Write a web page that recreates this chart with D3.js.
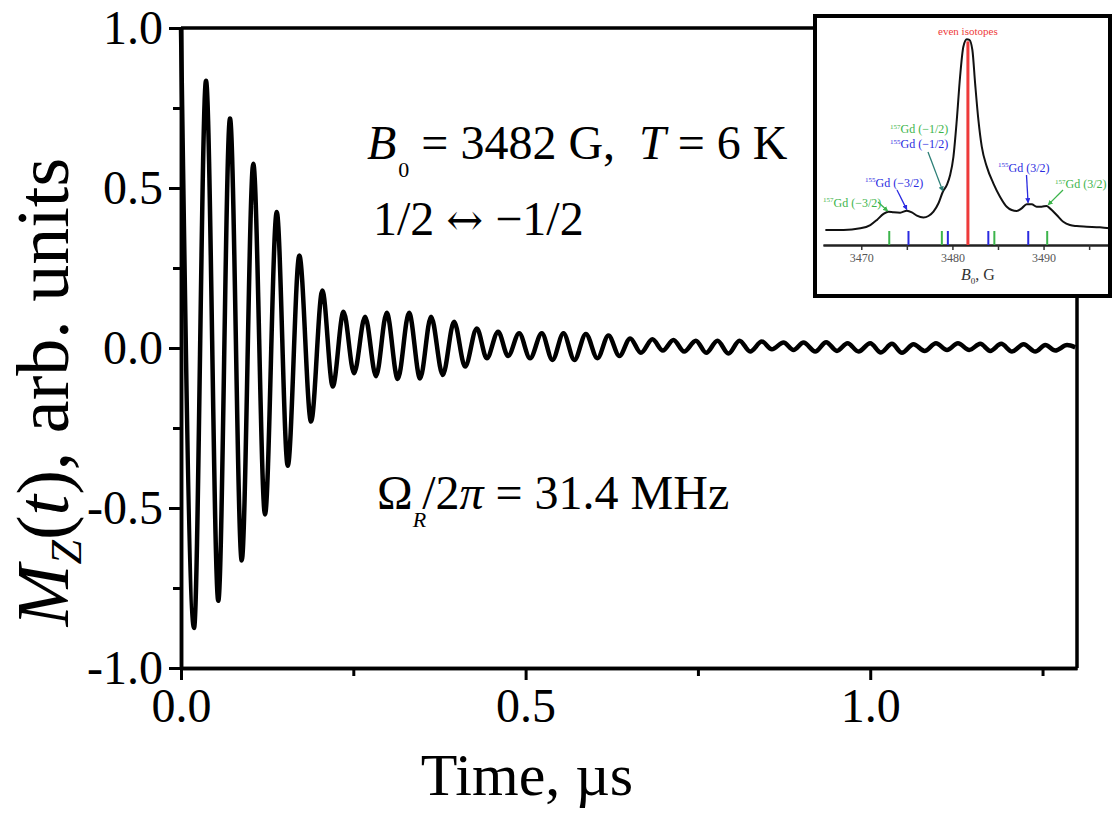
<!DOCTYPE html>
<html>
<head>
<meta charset="utf-8">
<script src="https://cdn.jsdelivr.net/npm/d3@7"></script>
<style>
  body { margin: 0; background: #fff; }
  svg { display: block; font-family: "Liberation Serif", "Times New Roman", serif; }
  text { white-space: pre; }
</style>
</head>
<body>
<svg width="1112" height="814"></svg>
<script>
// Rabi oscillation trace, extrema (time in us)
const timeUs = [
  0, 0.0189, 0.0363, 0.0541, 0.0711, 0.0881, 0.1049, 0.1219, 0.1389, 0.1549,
  0.1717, 0.1887, 0.2051, 0.2202, 0.2358, 0.2511, 0.2671, 0.2830, 0.2985, 0.3145,
  0.3309, 0.3469, 0.3628, 0.3798, 0.3962, 0.4122, 0.4292, 0.4437, 0.4601, 0.4746,
  0.4906, 0.5065, 0.5235, 0.5389, 0.5549, 0.5708, 0.5874, 0.6042, 0.6202, 0.6361,
  0.6517, 0.6672, 0.6840, 0.6991, 0.7145, 0.7300, 0.7470, 0.7620, 0.7784, 0.7943,
  0.8103, 0.8258, 0.8428, 0.8573, 0.8742, 0.8887, 0.9032, 0.9202, 0.9361, 0.9517,
  0.9671, 0.9830, 1.0000, 1.0155, 1.0315, 1.0460, 1.0628, 1.0788, 1.0954, 1.1114,
  1.1273, 1.1437, 1.1597, 1.1742, 1.1901, 1.2057, 1.2225, 1.2395, 1.2540, 1.2685,
  1.2855, 1.2975
];
const mz = [
  1.0, -0.875, 0.835, -0.79, 0.717, -0.664, 0.576, -0.52, 0.425, -0.368,
  0.289, -0.23, 0.18, -0.12, 0.113, -0.079, 0.098, -0.088, 0.11, -0.097,
  0.11, -0.095, 0.098, -0.084, 0.082, -0.058, 0.061, -0.032, 0.051, -0.025,
  0.046, -0.032, 0.046, -0.0375, 0.046, -0.0375, 0.044, -0.032, 0.039, -0.025,
  0.030, -0.015, 0.027, -0.008, 0.025, -0.011, 0.023, -0.015, 0.023, -0.017,
  0.023, -0.011, 0.020, -0.004, 0.017, -0.006, 0.017, -0.011, 0.018, -0.009,
  0.015, -0.011, 0.015, -0.014, 0.013, -0.015, 0.012, -0.009, 0.015, -0.006,
  0.015, -0.006, 0.013, -0.009, 0.013, -0.011, 0.012, -0.011, 0.009, -0.008,
  0.009, 0.002
];
const xMajor = [0, 0.5, 1.0];
const xMinor = [0.25, 0.75, 1.25];
const yMajor = [-1, -0.5, 0, 0.5, 1];
const yMinor = [-0.75, -0.25, 0.25, 0.75];

// inset: EPR line, field in G, intensity normalised to peak
const insetField = [
  3466.06, 3468.06, 3469.89, 3470.99, 3471.72, 3472.44, 3472.99, 3473.54, 3474.27, 3475.0,
  3475.55, 3476.1, 3476.82, 3477.37, 3477.92, 3478.47, 3478.95, 3479.39, 3479.75, 3480.11,
  3480.48, 3480.84, 3481.2, 3481.58, 3481.86, 3482.19, 3482.49, 3482.85, 3483.22, 3483.77,
  3484.49, 3485.22, 3485.96, 3486.5, 3487.05, 3487.6, 3488.15, 3488.7, 3489.24, 3489.79,
  3490.34, 3490.7, 3491.44, 3492.16, 3492.89, 3493.63, 3494.72, 3496.18, 3497.27
];
const insetSignal = [
  0.073, 0.073, 0.081, 0.097, 0.122, 0.151, 0.162, 0.159, 0.157, 0.167,
  0.159, 0.143, 0.134, 0.141, 0.162, 0.203, 0.259, 0.292, 0.340, 0.429,
  0.608, 0.818, 0.964, 1.0, 0.997, 0.948, 0.786, 0.608, 0.478, 0.381,
  0.300, 0.235, 0.186, 0.170, 0.165, 0.178, 0.198, 0.198, 0.186, 0.186,
  0.190, 0.178, 0.146, 0.113, 0.097, 0.092, 0.089, 0.086, 0.081
];
const insetTicks = [3470, 3480, 3490];
const insetMinor = [3475, 3485, 3495];
const gd157Lines = [3473.07, 3478.84, 3484.6, 3490.4];
const gd155Lines = [3475.18, 3479.5, 3483.94, 3488.32];
const evenLine = 3481.7;

const green = "#3cb44b", blue = "#2a2ae0", teal = "#2c7f76", red = "#ee3a3a";

const svg = d3.select("svg");
svg.append("rect").attr("width", 1112).attr("height", 814).attr("fill", "#fff");

const x = d3.scaleLinear().domain([0, 1.3]).range([181, 1077]);
const y = d3.scaleLinear().domain([-1, 1]).range([668, 28]);

const fmt = d => d.toFixed(1);

// y axis
svg.append("g").attr("transform", "translate(" + x(0) + ",0)")
  .call(d3.axisLeft(y).tickValues(yMajor).tickFormat(fmt).tickSize(12).tickSizeOuter(0).tickPadding(6));
svg.append("g").attr("transform", "translate(" + x(0) + ",0)")
  .call(d3.axisLeft(y).tickValues(yMinor).tickFormat("").tickSize(8).tickSizeOuter(0));

// x axis
svg.append("g").attr("transform", "translate(0," + y(-1) + ")")
  .call(d3.axisBottom(x).tickValues(xMajor).tickFormat(fmt).tickSize(12).tickSizeOuter(0).tickPadding(8));
svg.append("g").attr("transform", "translate(0," + y(-1) + ")")
  .call(d3.axisBottom(x).tickValues(xMinor).tickFormat("").tickSize(8).tickSizeOuter(0));

svg.selectAll(".domain").attr("stroke", "#000").attr("stroke-width", 3.5);
svg.selectAll(".tick line").attr("stroke", "#000").attr("stroke-width", 3);
svg.selectAll(".tick text").attr("font-family", "Liberation Serif, serif").attr("font-size", 48).attr("fill", "#000");

// frame top and right
svg.append("line").attr("x1", x(0)).attr("x2", x(1.3)).attr("y1", y(1)).attr("y2", y(1))
  .attr("stroke", "#000").attr("stroke-width", 3.5);
svg.append("line").attr("x1", x(1.3)).attr("x2", x(1.3)).attr("y1", y(1)).attr("y2", y(-1))
  .attr("stroke", "#000").attr("stroke-width", 3.5);

// trace
const pts = timeUs.map((t, i) => [t, mz[i]]);
svg.append("path").datum(pts)
  .attr("d", d3.line().x(d => x(d[0])).y(d => y(d[1])).curve(d3.curveMonotoneX))
  .attr("fill", "none").attr("stroke", "#000").attr("stroke-width", 4.5).attr("stroke-linejoin", "round");

// axis titles
svg.append("text").attr("x", 527).attr("y", 795).attr("text-anchor", "middle")
  .attr("font-size", 60).text("Time, \u00b5s");

const yl = svg.append("text").attr("transform", "translate(68,392) rotate(-90)")
  .attr("text-anchor", "middle").attr("font-size", 74);
yl.append("tspan").attr("font-style", "italic").text("M");
yl.append("tspan").attr("font-style", "italic").attr("font-size", 44).attr("dy", 13).text("Z");
yl.append("tspan").attr("dy", -13).text("(");
yl.append("tspan").attr("font-style", "italic").text("t");
yl.append("tspan").text("), arb. units");

// annotations
const t1 = svg.append("text").attr("x", 367).attr("y", 159).attr("font-size", 48);
t1.append("tspan").attr("font-style", "italic").text("B");
t1.append("tspan").attr("font-size", 22).attr("dy", 18).attr("dx", 2).text("0");
t1.append("tspan").attr("dy", -18).text(" = 3482 G,  ");
t1.append("tspan").attr("font-style", "italic").text("T");
t1.append("tspan").text(" = 6 K");

const t2 = svg.append("text").attr("x", 373).attr("y", 235).attr("font-size", 48);
t2.append("tspan").text("1/2 ");
t2.append("tspan").attr("font-family", "DejaVu Serif, serif").attr("font-size", 44).text("\u2194");
t2.append("tspan").text(" \u22121/2");

const t3 = svg.append("text").attr("x", 377).attr("y", 509).attr("font-size", 48);
t3.append("tspan").text("\u03a9");
t3.append("tspan").attr("font-style", "italic").attr("font-size", 22).attr("dy", 18).text("R");
t3.append("tspan").attr("dy", -18).attr("dx", -4).text("/2");
t3.append("tspan").attr("font-style", "italic").text("\u03c0");
t3.append("tspan").text(" = 31.4 MHz");

// ---------- inset ----------
const inset = svg.append("g");
inset.append("rect").attr("x", 815).attr("y", 16).attr("width", 295).attr("height", 280)
  .attr("fill", "#fff");

const xi = d3.scaleLinear().domain([3465.8, 3497.4]).range([823, 1111]);
const yi = d3.scaleLinear().domain([0, 1]).range([245, 39.3]);

inset.append("g").attr("transform", "translate(0,245)")
  .call(d3.axisBottom(xi).tickValues(insetTicks).tickFormat(d3.format("d")).tickSize(5).tickSizeOuter(0).tickPadding(3));
inset.append("g").attr("transform", "translate(0,245)")
  .call(d3.axisBottom(xi).tickValues(insetMinor).tickFormat("").tickSize(5).tickSizeOuter(0));
inset.selectAll(".domain").attr("stroke", "#222").attr("stroke-width", 1.8);
inset.selectAll(".tick line").attr("stroke", "#333").attr("stroke-width", 1.5);
inset.selectAll(".tick text").attr("font-size", 12).attr("fill", "#555").attr("font-family", "Liberation Serif, serif");

inset.selectAll(".s157").data(gd157Lines).join("line")
  .attr("x1", d => xi(d)).attr("x2", d => xi(d)).attr("y1", 245).attr("y2", 231)
  .attr("stroke", green).attr("stroke-width", 2);
inset.selectAll(".s155").data(gd155Lines).join("line")
  .attr("x1", d => xi(d)).attr("x2", d => xi(d)).attr("y1", 245).attr("y2", 231)
  .attr("stroke", blue).attr("stroke-width", 2);
inset.append("line").attr("x1", xi(evenLine)).attr("x2", xi(evenLine))
  .attr("y1", yi(0.99)).attr("y2", 245).attr("stroke", red).attr("stroke-width", 3);

inset.append("path").datum(insetField.map((f, i) => [f, insetSignal[i]]))
  .attr("d", d3.line().x(d => xi(d[0])).y(d => yi(d[1])).curve(d3.curveMonotoneX))
  .attr("fill", "none").attr("stroke", "#111").attr("stroke-width", 2);

inset.append("text").attr("x", xi(evenLine)).attr("y", 35).attr("text-anchor", "middle")
  .attr("font-size", 11).attr("fill", red).text("even isotopes");

const bl = inset.append("text").attr("x", 978).attr("y", 280).attr("text-anchor", "middle")
  .attr("font-size", 16).attr("fill", "#333");
bl.append("tspan").attr("font-style", "italic").text("B");
bl.append("tspan").attr("font-size", 9).attr("dy", 4).text("0");
bl.append("tspan").attr("dy", -4).text(", G");

// isotope labels with arrows
const defs = svg.append("defs");
[["g", green], ["b", blue], ["t", teal]].forEach(([id, c]) => {
  defs.append("marker").attr("id", "ah-" + id).attr("viewBox", "0 0 10 10")
    .attr("refX", 9).attr("refY", 5).attr("markerWidth", 4).attr("markerHeight", 4)
    .attr("orient", "auto").append("path").attr("d", "M0,0L10,5L0,10z").attr("fill", c);
});

const isoLabels = [
  { iso: "157", spin: "(\u22123/2)", color: green, lx: 823, ly: 206.7 },
  { iso: "155", spin: "(\u22123/2)", color: blue, lx: 865, ly: 186.7 },
  { iso: "157", spin: "(\u22121/2)", color: green, lx: 890, ly: 133.3 },
  { iso: "155", spin: "(\u22121/2)", color: blue, lx: 890, ly: 148.3 },
  { iso: "155", spin: "(3/2)", color: blue, lx: 998, ly: 171.7 },
  { iso: "157", spin: "(3/2)", color: green, lx: 1055, ly: 188.3 }
];
isoLabels.forEach(l => {
  const t = inset.append("text").attr("x", l.lx).attr("y", l.ly).attr("font-size", 12).attr("fill", l.color);
  t.append("tspan").attr("font-size", 7).attr("dy", -4.5).text(l.iso);
  t.append("tspan").attr("dy", 4.5).text("Gd " + l.spin);
});

const arrows = [
  { field: 3472.9, sig: 0.165, x0: 878, y0: 202, m: "g", c: green },
  { field: 3475.0, sig: 0.172, x0: 897, y0: 190, m: "b", c: blue },
  { field: 3478.95, sig: 0.262, x0: 928, y0: 152, m: "t", c: teal },
  { field: 3488.3, sig: 0.205, x0: 1026.5, y0: 175, m: "b", c: blue },
  { field: 3490.5, sig: 0.195, x0: 1063, y0: 190, m: "g", c: green }
];
arrows.forEach(a => {
  inset.append("line").attr("x1", a.x0).attr("y1", a.y0).attr("x2", xi(a.field)).attr("y2", yi(a.sig))
    .attr("stroke", a.c).attr("stroke-width", 1.3).attr("marker-end", "url(#ah-" + a.m + ")");
});

inset.append("rect").attr("x", 815).attr("y", 16).attr("width", 295).attr("height", 280)
  .attr("fill", "none").attr("stroke", "#000").attr("stroke-width", 4);
</script>
</body>
</html>
